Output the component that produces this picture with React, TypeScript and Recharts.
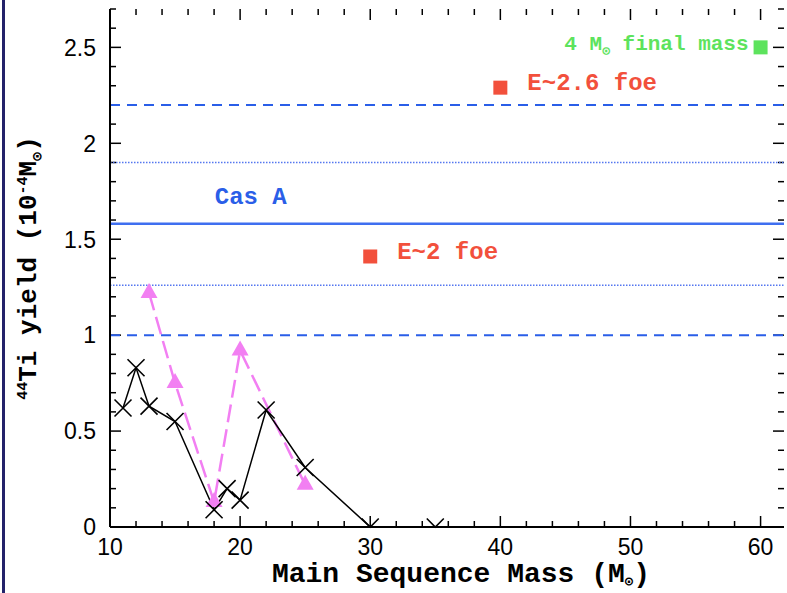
import React from 'react';
import {
  ComposedChart,
  Line,
  Scatter,
  XAxis,
  YAxis,
  ReferenceLine,
  ReferenceDot,
  Label,
} from 'recharts';

// black crosses (solid line)
const massCross = [11, 12, 13, 15, 18, 19, 20, 22, 25, 30, 35];
const yieldCross = [0.62, 0.83, 0.63, 0.55, 0.09, 0.2, 0.14, 0.61, 0.31, 0, 0];

// magenta triangles (dashed line)
const massTri = [13, 15, 18, 20, 25];
const yieldTri = [1.22, 0.75, 0.13, 0.92, 0.22];

// red squares + notes
const massEnergy = [30, 40];
const yieldEnergy = [1.41, 2.29];
const energyNotes = ['E~2 foe', 'E~2.6 foe'];

// green square
const massFinal = [60];
const yieldFinal = [2.5];

// Cas A band
const casA = 1.58;
const casADotted = [1.26, 1.9];
const casADashed = [1.0, 2.2];
const casALabelAt = { x: 18.05, y: 1.73 };

const xMajor = [10, 20, 30, 40, 50, 60];
const xTicks = [10, 12, 14, 16, 18, 20, 22, 24, 26, 28, 30, 32, 34, 36, 38, 40, 42, 44, 46, 48, 50, 52, 54, 56, 58, 60];
const yMajor = [0, 0.5, 1, 1.5, 2, 2.5];
const yTicks = [0, 0.1, 0.2, 0.3, 0.4, 0.5, 0.6, 0.7, 0.8, 0.9, 1, 1.1, 1.2, 1.3, 1.4, 1.5, 1.6, 1.7, 1.8, 1.9, 2, 2.1, 2.2, 2.3, 2.4, 2.5, 2.6, 2.7];

const crossData = massCross.map((x, i) => ({ x, y: yieldCross[i] }));
const triData = massTri.map((x, i) => ({ x, y: yieldTri[i] }));
const energyData = massEnergy.map((x, i) => ({ x, y: yieldEnergy[i], note: energyNotes[i] }));
const finalData = massFinal.map((x, i) => ({ x, y: yieldFinal[i] }));

const X_DOMAIN: [number, number] = [10, 61.8];
const Y_DOMAIN: [number, number] = [0, 2.7];

// chart box
const W = 787;
const H = 593;
const M_TOP = 9;
const M_RIGHT = 3;
const Y_AXIS_W = 110;
const X_AXIS_H = 66;
const PLOT_W = W - Y_AXIS_W - M_RIGHT;
const PLOT_H = H - M_TOP - X_AXIS_H;

// tick mark lengths (px) turned into data units so they can be drawn as segments
const pxToX = (px: number) => (px * (X_DOMAIN[1] - X_DOMAIN[0])) / PLOT_W;
const pxToY = (px: number) => (px * (Y_DOMAIN[1] - Y_DOMAIN[0])) / PLOT_H;
const MAJOR_PX = 11;
const MINOR_PX = 6;

const SANS = '"Liberation Sans", Arial, sans-serif';
const MONO = '"Liberation Mono", "DejaVu Sans Mono", monospace';
const BLUE = '#2a5ee8';
const RED = '#f2503c';
const GREEN = '#5de35d';
const PINK = '#f27ff2';
const FRAME = { stroke: '#000', strokeWidth: 2 };

const tickSegments: { key: string; seg: { x: number; y: number }[] }[] = [];
yTicks.forEach((v) => {
  const len = pxToX(yMajor.includes(v) ? MAJOR_PX : MINOR_PX);
  tickSegments.push({ key: `yl${v}`, seg: [{ x: X_DOMAIN[0], y: v }, { x: X_DOMAIN[0] + len, y: v }] });
  tickSegments.push({ key: `yr${v}`, seg: [{ x: X_DOMAIN[1] - len, y: v }, { x: X_DOMAIN[1], y: v }] });
});
xTicks.forEach((v) => {
  const len = pxToY(xMajor.includes(v) ? MAJOR_PX : MINOR_PX);
  tickSegments.push({ key: `xb${v}`, seg: [{ x: v, y: Y_DOMAIN[0] }, { x: v, y: Y_DOMAIN[0] + len }] });
  tickSegments.push({ key: `xt${v}`, seg: [{ x: v, y: Y_DOMAIN[1] - len }, { x: v, y: Y_DOMAIN[1] }] });
});

const LeftLabel = (p: any) => {
  const v = p.payload.value;
  return (
    <text x={p.x - 14} y={p.y} dy="0.36em" textAnchor="end" fontFamily={SANS} fontSize={23} fill="#000">
      {v}
    </text>
  );
};

const BottomLabel = (p: any) => {
  const v = p.payload.value;
  return (
    <text x={p.x} y={p.y + 20} dy="0.36em" textAnchor="middle" fontFamily={SANS} fontSize={23} fill="#000">
      {v}
    </text>
  );
};

// crosses sitting on the x axis are cut by the frame, as in the plot
const CrossDot = (p: any) => {
  const { cx, cy, index, payload } = p;
  if (cx == null || cy == null) return <g key={`c${index}`} />;
  const s = 8.5;
  const d =
    payload && payload.y <= 0
      ? `M${cx - s},${cy - s}L${cx},${cy}L${cx + s},${cy - s}`
      : `M${cx - s},${cy - s}L${cx + s},${cy + s}M${cx - s},${cy + s}L${cx + s},${cy - s}`;
  return <path key={`c${index}`} d={d} stroke="#000" strokeWidth={1.6} fill="none" />;
};

const TriDot = (p: any) => {
  const { cx, cy, index } = p;
  if (cx == null || cy == null) return <g key={`t${index}`} />;
  return <polygon key={`t${index}`} points={`${cx},${cy - 10} ${cx - 8.5},${cy + 5} ${cx + 8.5},${cy + 5}`} fill={PINK} />;
};

const EnergySquare = (p: any) => (
  <g>
    <rect x={p.cx - 7} y={p.cy - 7} width={14} height={14} fill={RED} />
    <text x={p.cx + 27} y={p.cy - 6} dy="0.36em" fontFamily={MONO} fontWeight="bold" fontSize={24} fill={RED}>
      {p.payload.note}
    </text>
  </g>
);

const FinalSquare = (p: any) => (
  <g>
    <rect x={p.cx - 7} y={p.cy - 7} width={14} height={14} fill={GREEN} />
    <text x={p.cx - 12} y={p.cy - 5} dy="0.36em" textAnchor="end" fontFamily={MONO} fontWeight="bold" fontSize={21} fill={GREEN}>
      4 M<tspan fontSize={13} dy={5}>⊙</tspan>
      <tspan dy={-5}> final mass</tspan>
    </text>
  </g>
);

const CasALabel = (p: any) => {
  const vb = p.viewBox || {};
  return (
    <text x={vb.x} y={vb.y} dy="0.36em" fontFamily={MONO} fontWeight="bold" fontSize={24} fill={BLUE}>
      Cas A
    </text>
  );
};

const XTitle = (p: any) => {
  const vb = p.viewBox;
  return (
    <text x={vb.x + vb.width / 2 + 14} y={vb.y + 55} textAnchor="middle" fontFamily={MONO} fontWeight="bold" fontSize={28} fill="#000">
      Main Sequence Mass (M<tspan fontSize={14} dy={4}>⊙</tspan>
      <tspan dy={-4}>)</tspan>
    </text>
  );
};

const YTitle = (p: any) => {
  const vb = p.viewBox;
  const cx = 36;
  const cy = vb.y + vb.height / 2;
  return (
    <text x={cx} y={cy} textAnchor="middle" transform={`rotate(-90, ${cx}, ${cy})`} fontFamily={MONO} fontWeight="bold" fontSize={26} fill="#000">
      <tspan fontSize={15} dy={-9}>44</tspan>
      <tspan dy={9}>Ti yield (10</tspan>
      <tspan fontSize={15} dy={-9}>-4</tspan>
      <tspan dy={9}>M</tspan>
      <tspan fontSize={15} dy={6}>⊙</tspan>
      <tspan dy={-6}>)</tspan>
    </text>
  );
};

const App = () => {
  return (
    <div style={{ position: 'absolute', left: 0, top: 0, width: W, height: H, background: '#fff' }}>
      <div style={{ position: 'absolute', left: 2, top: 0, width: 3, height: H, background: '#23226a' }} />
      <ComposedChart width={W} height={H} margin={{ top: M_TOP, right: M_RIGHT, bottom: 0, left: 0 }}>
        <XAxis
          dataKey="x"
          type="number"
          domain={X_DOMAIN}
          ticks={xMajor}
          interval={0}
          height={X_AXIS_H}
          tickSize={0}
          tickMargin={0}
          tickLine={false}
          tick={BottomLabel}
          axisLine={FRAME}
        >
          <Label content={XTitle} />
        </XAxis>
        <XAxis
          xAxisId="top"
          orientation="top"
          dataKey="x"
          type="number"
          domain={X_DOMAIN}
          height={0}
          tick={false}
          tickLine={false}
          axisLine={FRAME}
        />
        <YAxis
          type="number"
          domain={Y_DOMAIN}
          ticks={yMajor}
          interval={0}
          width={Y_AXIS_W}
          tickSize={0}
          tickMargin={0}
          tickLine={false}
          tick={LeftLabel}
          axisLine={FRAME}
        >
          <Label content={YTitle} />
        </YAxis>
        <YAxis
          yAxisId="right"
          orientation="right"
          type="number"
          domain={Y_DOMAIN}
          width={0}
          tick={false}
          tickLine={false}
          axisLine={FRAME}
        />

        {tickSegments.map((t) => (
          <ReferenceLine key={t.key} segment={t.seg} stroke="#000" strokeWidth={1.5} />
        ))}

        {casADashed.map((v) => (
          <ReferenceLine key={`d${v}`} y={v} stroke={BLUE} strokeWidth={2} strokeDasharray="10 7" />
        ))}
        {casADotted.map((v) => (
          <ReferenceLine key={`o${v}`} y={v} stroke="#5577f0" strokeWidth={1.5} strokeDasharray="1.5 1.5" />
        ))}
        <ReferenceLine y={casA} stroke="#3f6ff0" strokeWidth={2.5} />
        <ReferenceDot x={casALabelAt.x} y={casALabelAt.y} r={0} fill="none" stroke="none" label={CasALabel} />

        <Line
          data={triData}
          dataKey="y"
          type="linear"
          stroke={PINK}
          strokeWidth={2.5}
          strokeDasharray="18 7"
          dot={TriDot}
          activeDot={false}
          isAnimationActive={false}
        />
        <Line
          data={crossData}
          dataKey="y"
          type="linear"
          stroke="#000"
          strokeWidth={1.5}
          dot={CrossDot}
          activeDot={false}
          isAnimationActive={false}
        />
        <Scatter data={energyData} dataKey="y" shape={EnergySquare} isAnimationActive={false} />
        <Scatter data={finalData} dataKey="y" shape={FinalSquare} isAnimationActive={false} />
      </ComposedChart>
    </div>
  );
};

export default App;
